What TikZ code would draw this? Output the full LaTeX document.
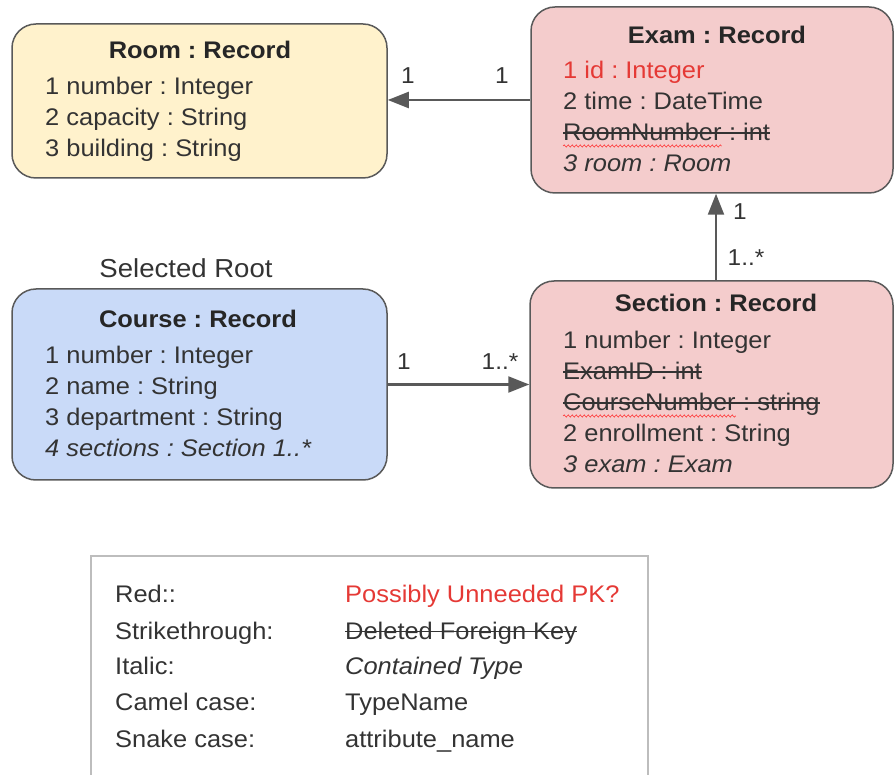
\documentclass[tikz,border=0pt]{standalone}
\usepackage{fontspec}
\setmainfont{Liberation Sans}[FakeStretch=1.06]
\usetikzlibrary{arrows.meta,decorations.pathmorphing,calc}
\definecolor{roomfill}{HTML}{FFF2CC}
\definecolor{coursefill}{HTML}{C9DAF8}
\definecolor{redfill}{HTML}{F4CCCC}
\definecolor{edgecol}{HTML}{595959}
\definecolor{txt}{HTML}{333333}
\definecolor{pkred}{HTML}{E53935}
\definecolor{legendcol}{HTML}{BDBDBD}
\newcommand\mystrike[1]{\setbox0=\hbox{#1}\rlap{\rule[0.3em]{\wd0}{1.3pt}}\box0}
\frenchspacing
\begin{document}
\begin{tikzpicture}[x=1pt,y=-1pt,
  recbox/.style={draw=edgecol, line width=1.5pt, rounded corners=24pt, inner sep=0},
  conn/.style={draw=edgecol, line width=2.2pt, -{Triangle[length=21pt,width=16pt]}},
  txtline/.style={anchor=base west, inner sep=0, font=\fontsize{24}{28}\selectfont, text=txt},
  title/.style={anchor=base, inner sep=0, font=\bfseries\fontsize{24}{28}\selectfont, text=black!85},
  lbl/.style={inner sep=0, font=\fontsize{23}{26}\selectfont, text=txt},
  wavy/.style={draw=red!80, line width=0.6pt, decorate, decoration={snake, amplitude=1.1pt, segment length=4pt}}]
\useasboundingbox (0,0) rectangle (895,775);

% boxes
\node[recbox, fill=roomfill, minimum width=375pt, minimum height=154pt] (room) at (199.5,101) {};
\node[recbox, fill=redfill, minimum width=362pt, minimum height=186pt] (exam) at (712,100) {};
\node[recbox, fill=redfill, minimum width=363pt, minimum height=207pt] (section) at (711.5,384.5) {};
\node[recbox, fill=coursefill, minimum width=375pt, minimum height=191pt] (course) at (199.5,384.5) {};

% Room
\node[title] (roomt) at (200,59) {Room : Record};
\node[txtline] (room1) at (45,95) {1 number : Integer};
\node[txtline] (room2) at (45,126) {2 capacity : String};
\node[txtline] (room3) at (45,157) {3 building : String};

% Exam
\node[title] (examt) at (717,44) {Exam : Record};
\node[txtline, text=pkred] (exam1) at (563,79) {1 id : Integer};
\node[txtline] (exam2) at (563,110) {2 time : DateTime};
\node[txtline] (examrn) at (563,141) {\mystrike{RoomNumber}};
\node[txtline] (examint) at (examrn.base east) {\mystrike{\ : int}};
\node[txtline] (exam3) at (563,172) {\itshape 3 room : Room};

% Section
\node[title] (sectt) at (716,312) {Section : Record};
\node[txtline] (sect1) at (563,349) {1 number : Integer};
\node[txtline] (sectex) at (563,380) {\mystrike{ExamID : int}};
\node[txtline] (sectcn) at (563,411) {\mystrike{CourseNumber}};
\node[txtline] (sectstr) at (sectcn.base east) {\mystrike{\ : string}};
\node[txtline] (sect2) at (563,442) {2 enrollment : String};
\node[txtline] (sect3) at (563,473) {\itshape 3 exam : Exam};

% Course
\node[lbl, font=\fontsize{26}{30}\selectfont] (selroot) at (186,268) {Selected Root};
\node[title] (courset) at (198,328) {Course : Record};
\node[txtline] (course1) at (45,364) {1 number : Integer};
\node[txtline] (course2) at (45,395) {2 name : String};
\node[txtline] (course3) at (45,426) {3 department : String};
\node[txtline] (course4) at (45,457) {\itshape 4 sections : Section 1..*};

% spell-check underlines
\draw[wavy] ($(examrn.base west)+(0,5)$) -- ($(examrn.base east)+(0,5)$);
\draw[wavy] ($(sectcn.base west)+(0,5)$) -- ($(sectcn.base east)+(0,5)$);

% connectors
\draw[conn] (exam.west) -- (exam.west -| room.east);
\draw[conn] ($(section.north)+(4.5,0)$) -- ($(exam.south)+(4,0)$);
\draw[conn] (course.east) -- (section.west);

% multiplicities
\node[lbl] (m1) at (408,76) {1};
\node[lbl] (m2) at (502,76) {1};
\node[lbl] (m3) at (740,212) {1};
\node[lbl] (m4) at (746,258) {1..*};
\node[lbl] (m5) at (404,362) {1};
\node[lbl] (m6) at (500,362) {1..*};

% legend
\draw[draw=legendcol, line width=1.5pt] (91,790) -- (91,556) -- (648,556) -- (648,790);
\node[txtline] (l1a) at (115,602) {Red::};
\node[txtline, text=pkred] (l1b) at (345,602) {Possibly Unneeded PK?};
\node[txtline] (l2a) at (115,639) {Strikethrough:};
\node[txtline] (l2b) at (345,639) {\mystrike{Deleted Foreign Key}};
\node[txtline] (l3a) at (115,674) {Italic:};
\node[txtline] (l3b) at (345,674) {\itshape Contained Type};
\node[txtline] (l4a) at (115,710) {Camel case:};
\node[txtline] (l4b) at (345,710) {TypeName};
\node[txtline] (l5a) at (115,747) {Snake case:};
\node[txtline] (l5b) at (345,747) {attribute\_name};
\end{tikzpicture}
\end{document}
